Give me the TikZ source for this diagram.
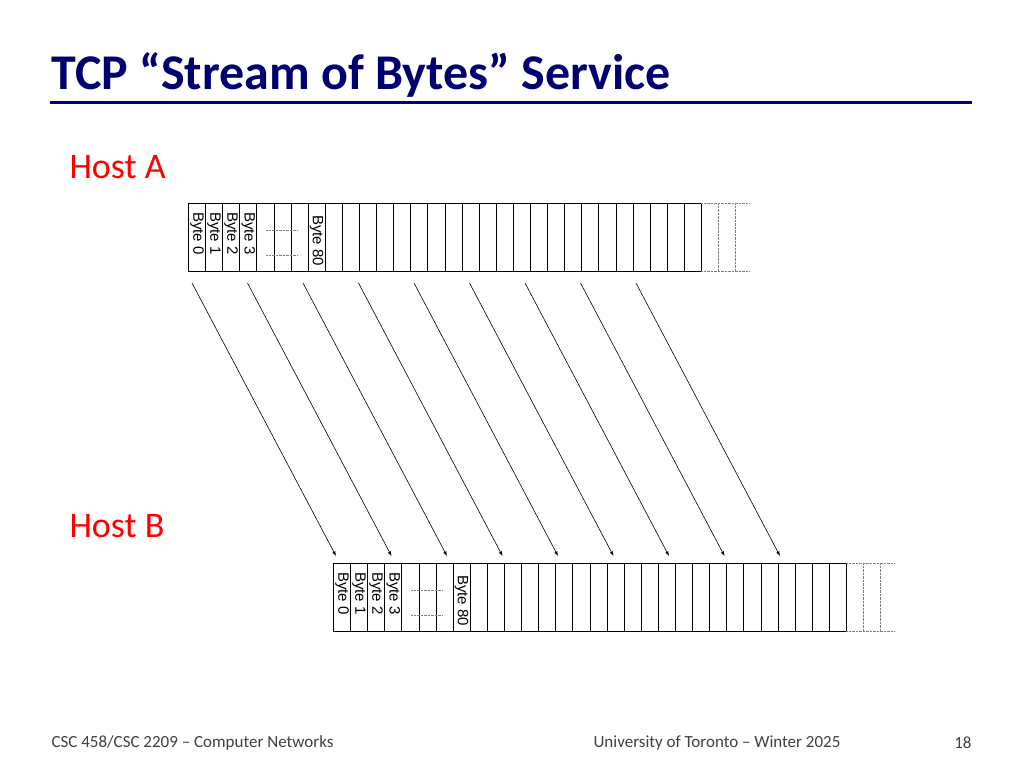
\documentclass[tikz,border=0pt]{standalone}
\usepackage{fontspec}
\setmainfont{Carlito}
\newfontfamily\dv{Liberation Sans}
\begin{document}
\begin{tikzpicture}[x=1pt,y=-1pt,
  cell/.style={draw,line width=0.8pt,minimum width=17.1pt,minimum height=68pt,inner sep=0,anchor=north west},
  lbl/.style={font=\dv\fontsize{15}{15}\selectfont,rotate=-90,inner sep=0},
  arr/.style={-latex,line width=0.6pt}]
\useasboundingbox (0,0) rectangle (1024,768);
\node[anchor=west,text=blue!45!black,font=\bfseries\fontsize{50}{50}\selectfont] (title) at (48,75) {TCP “Stream of Bytes” Service};
\draw[line width=3pt,blue!45!black] (50,102) -- (972,102);
\node[anchor=west,text=red,font=\fontsize{36}{36}\selectfont] (ha) at (66,167) {Host A};
\node[anchor=west,text=red,font=\fontsize{36}{36}\selectfont] (hb) at (66,526) {Host B};
\foreach \n/\X/\Y in {A/188/203,B/333/563}{
  \foreach \i in {0,...,29}{
    \node[cell] (\n\i) at (\X+\i*17.1,\Y) {};
  }
  \draw[densely dotted,gray] (\X+513,\Y) -- (\X+562,\Y) (\X+513,\Y+68) -- (\X+562,\Y+68)
     (\X+530,\Y) -- (\X+530,\Y+68) (\X+547,\Y) -- (\X+547,\Y+68);
  \draw[densely dotted,gray] (\X+78,\Y+27) -- (\X+110,\Y+27) (\X+78,\Y+52) -- (\X+110,\Y+52);
  \foreach \i/\t in {0/0,1/1,2/2,3/3}{
    \node[lbl,anchor=west] at ([yshift=-9pt]\n\i.north) {Byte \t};
  }
  \node[lbl,anchor=west] at ([yshift=-12pt]\n7.north) {Byte 80};
}
\foreach \k in {0,...,8}{
  \coordinate (s\k) at (192+\k*55.5,283);
  \coordinate (e\k) at (336+\k*55.5,556);
  \draw[arr] (s\k) -- (e\k);
}
\node[anchor=west,text=black!75,font=\fontsize{17}{17}\selectfont] (f1) at (48,743) {CSC 458/CSC 2209 – Computer Networks};
\node[anchor=west,text=black!75,font=\fontsize{17}{17}\selectfont] (f2) at (590,743) {University of Toronto – Winter 2025};
\node[anchor=east,text=black!75,font=\fontsize{17}{17}\selectfont] (f3) at (975,743) {18};
\end{tikzpicture}
\end{document}
